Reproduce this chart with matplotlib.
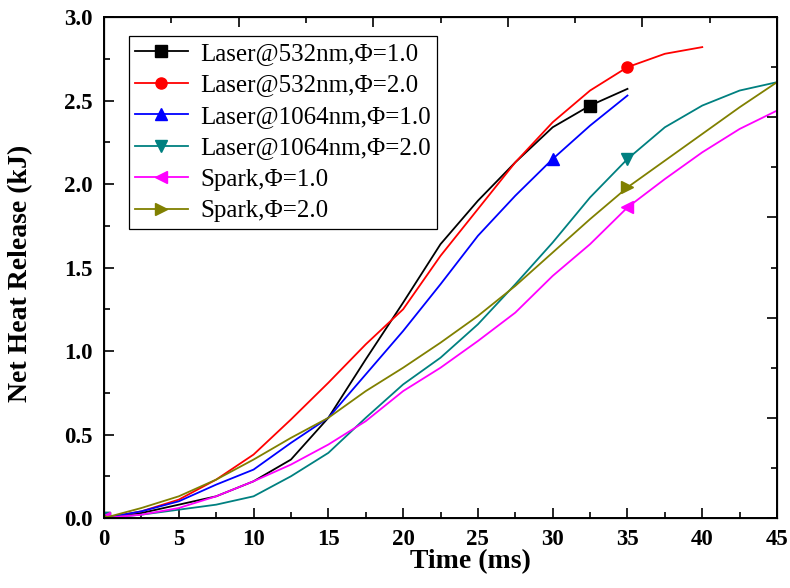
import matplotlib
matplotlib.use("Agg")
import matplotlib.pyplot as plt
from matplotlib.ticker import MultipleLocator

plt.rcParams["font.family"] = ["Liberation Serif", "DejaVu Serif"]

# ---- data (time in ms, heat release in kJ) ----
t35 = [0, 2.5, 5, 7.5, 10, 12.5, 15, 17.5, 20, 22.5, 25, 27.5, 30, 32.5, 35]
t40 = t35 + [37.5, 40]
t45 = t40 + [42.5, 45]

laser532_phi1 = [0, 0.03, 0.08, 0.13, 0.22, 0.35, 0.60, 0.95, 1.29, 1.64, 1.90, 2.13, 2.34, 2.47, 2.57]
laser532_phi2 = [0, 0.04, 0.11, 0.23, 0.38, 0.59, 0.81, 1.04, 1.25, 1.57, 1.85, 2.13, 2.37, 2.56, 2.70, 2.78, 2.82]
laser1064_phi1 = [0, 0.04, 0.10, 0.20, 0.29, 0.45, 0.60, 0.86, 1.12, 1.40, 1.69, 1.93, 2.15, 2.35, 2.53]
laser1064_phi2 = [0, 0.02, 0.05, 0.08, 0.13, 0.25, 0.39, 0.60, 0.80, 0.96, 1.16, 1.40, 1.65, 1.92, 2.15,
                  2.34, 2.47, 2.56, 2.61]
spark_phi1 = [0, 0.02, 0.06, 0.13, 0.22, 0.32, 0.44, 0.58, 0.76, 0.90, 1.06, 1.23, 1.45, 1.64, 1.86,
              2.03, 2.19, 2.33, 2.44]
spark_phi2 = [0, 0.06, 0.13, 0.23, 0.35, 0.48, 0.60, 0.76, 0.90, 1.05, 1.21, 1.39, 1.59, 1.79, 1.98,
              2.14, 2.30, 2.46, 2.61]

series = [
    ("Laser@532nm,\u03a6=1.0", t35, laser532_phi1, "black", "s", 13),
    ("Laser@532nm,\u03a6=2.0", t40, laser532_phi2, "#FF0000", "o", 14),
    ("Laser@1064nm,\u03a6=1.0", t35, laser1064_phi1, "#0000FF", "^", 12),
    ("Laser@1064nm,\u03a6=2.0", t45, laser1064_phi2, "#008080", "v", 14),
    ("Spark,\u03a6=1.0", t45, spark_phi1, "#FF00FF", "<", 14),
    ("Spark,\u03a6=2.0", t45, spark_phi2, "#808000", ">", 14),
]

fig = plt.figure(figsize=(7.9, 5.88), dpi=100)
ax = fig.add_axes([0.1316, 0.119, 0.852, 0.852])

for label, t, v, col, mk, idx in series:
    ax.plot(t, v, color=col, lw=1.3, marker=mk, markersize=8,
            markevery=[0, idx], label=label)

ax.set_xlim(0, 45)
ax.set_ylim(0, 3.0)
ax.xaxis.set_major_locator(MultipleLocator(5))
ax.xaxis.set_minor_locator(MultipleLocator(2.5))
ax.yaxis.set_major_locator(MultipleLocator(0.5))
ax.yaxis.set_minor_locator(MultipleLocator(0.25))
ax.yaxis.set_major_formatter(plt.FormatStrFormatter("%.1f"))

ax.tick_params(which="both", direction="in", width=1.2)
ax.tick_params(which="major", length=7, labelsize=16.5, pad=8)
ax.tick_params(which="minor", length=4)
for lab in ax.get_xticklabels() + ax.get_yticklabels():
    lab.set_fontweight("bold")
for sp in ax.spines.values():
    sp.set_linewidth(1.4)

# opposite axes carry their own tick spacing, no labels
top = ax.twiny()
top.set_xlim(0, 45)
top.xaxis.set_major_locator(MultipleLocator(9))
top.xaxis.set_minor_locator(MultipleLocator(4.5))
top.tick_params(which="both", direction="in", width=1.2, labeltop=False)
top.tick_params(which="major", length=7)
top.tick_params(which="minor", length=4)
right = ax.twinx()
right.set_ylim(0, 3.0)
right.yaxis.set_major_locator(MultipleLocator(0.6))
right.yaxis.set_minor_locator(MultipleLocator(0.3))
right.tick_params(which="both", direction="in", width=1.2, labelright=False)
right.tick_params(which="major", length=7)
right.tick_params(which="minor", length=4)

ax.set_xlabel("Time (ms)", fontsize=20, fontweight="bold")
ax.xaxis.set_label_coords(0.544, -0.062)
ax.set_ylabel("Net Heat Release (kJ)", fontsize=20, fontweight="bold")
ax.yaxis.set_label_coords(-0.105, 0.489)

leg = ax.legend(loc="upper left", bbox_to_anchor=(0.037, 0.962), fontsize=18,
                handlelength=2.1, handletextpad=0.5, labelspacing=0.36,
                borderpad=0.25, borderaxespad=0, fancybox=False, framealpha=1,
                edgecolor="black")
leg.get_frame().set_linewidth(0.9)

fig.savefig("out.png", dpi=100)
